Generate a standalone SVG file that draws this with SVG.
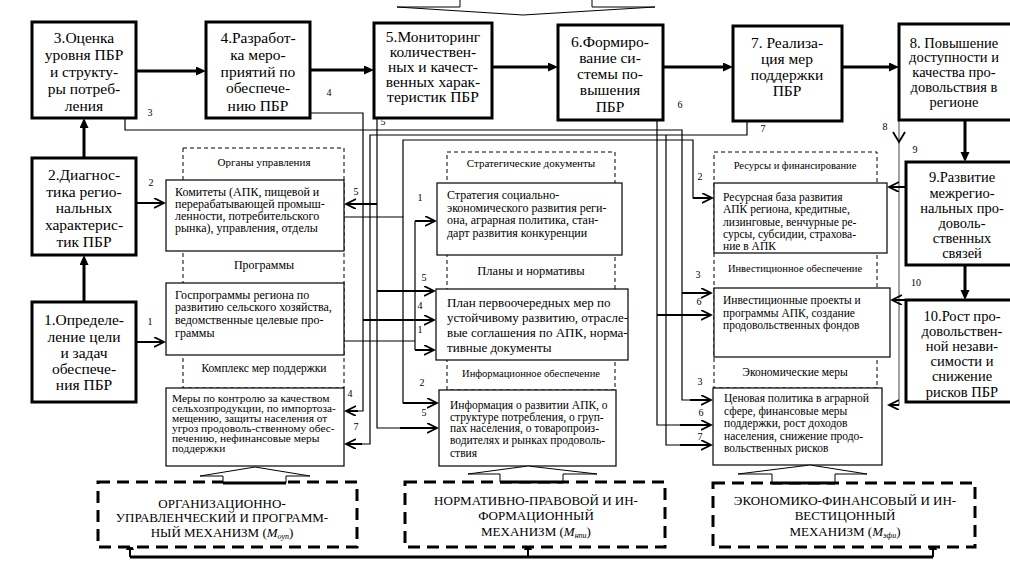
<svg xmlns="http://www.w3.org/2000/svg" width="1010" height="563" viewBox="0 0 1010 563">
<style>
.bx{fill:#fff;stroke:#000;stroke-width:3}
.sb{fill:#fff;stroke:#000;stroke-width:1.2}
.dl{fill:none;stroke:#000;stroke-width:1;stroke-dasharray:4 3}
.mech{fill:#fff;stroke:#000;stroke-width:3;stroke-dasharray:12 7}
text{font-family:"Liberation Serif","Times New Roman",serif;fill:#000}
.tb{font-size:15.5px;text-anchor:middle}
.tb2{font-size:14.5px;text-anchor:middle}
.t12{font-size:12px}
.t115{font-size:11.5px}
.t13{font-size:13px}
.t10{font-size:9.5px}
.lab{font-size:11px;text-anchor:middle}
.mt{font-size:13px;text-anchor:middle}
.num{font-size:10px;text-anchor:middle}
.c path{fill:none;stroke:#000;stroke-width:1.2}
.c path.a{stroke-width:2;marker-end:url(#v)}
.c path.m{stroke-width:3;marker-end:url(#f)}
</style>
<defs>
<marker id="v" markerUnits="userSpaceOnUse" markerWidth="12" markerHeight="12" refX="10" refY="5" orient="auto"><path d="M0,0 L10,5 L0,10" fill="none" stroke="#000" stroke-width="1.8"/></marker>
<marker id="f" markerUnits="userSpaceOnUse" markerWidth="12" markerHeight="10" refX="2" refY="4.5" orient="auto"><path d="M0,0 L10,4.5 L0,9Z" fill="#000"/></marker>
</defs>
<rect width="1010" height="563" fill="#fff"/>

<g id="top-arrow"><path d="M460,0 V7 H397 L523,15 L655,7 H592 V0" fill="#fff" stroke="#000" stroke-width="1"/></g>

<g id="connectors" class="c">
<path class="m" d="M136,71 H198"/>
<path class="m" d="M310,70 H366"/>
<path class="m" d="M492,67 H550"/>
<path class="m" d="M663,67 H725"/>
<path class="m" d="M842,67 H891"/>
<path class="m" d="M84,158 V126"/>
<path class="m" d="M84,302 V263"/>
<path class="m" d="M965,120 V154"/>
<path class="m" d="M965,265 V292"/>
<path d="M125,118 V130 H682 V400 H700"/>
<path class="a" d="M690,400 H711"/>
<path class="a" d="M682,293 H711"/>
<path d="M310,113 H363 V411 H355"/>
<path class="a" d="M358,411 H346"/>
<path class="a" d="M363,320 H434"/>
<path d="M377,118 V428 H420"/>
<path class="a" d="M400,428 H437"/>
<path class="a" d="M377,204 H346"/>
<path class="a" d="M377,291 H434"/>
<path d="M657,120 V425 H690"/>
<path class="a" d="M680,425 H711"/>
<path class="a" d="M657,315 H711"/>
<path d="M747,121 V135 H370 V444 H356"/>
<path class="a" d="M362,444 H346"/>
<path d="M666,135 V445 H690"/>
<path class="a" d="M680,445 H711"/>
<path d="M344,217 H403 V403 H420"/>
<path class="a" d="M403,403 H437"/>
<path d="M403,217 V140 H693 V198 H700"/>
<path class="a" d="M693,198 H712"/>
<path class="a" d="M136,203 H164"/>
<path class="a" d="M136,342 H164"/>
<path d="M344,341 H415"/>
<path d="M415,221 V350"/>
<path class="a" d="M415,221 H435"/>
<path class="a" d="M415,350 H434"/>
<path d="M899,120 V405 H895" style="stroke:#666"/>
<path class="a" d="M899,405 H889"/>
<path d="M893,132 L899,142 L905,132" style="stroke-width:1.8"/>
<path class="a" d="M906,187 H889"/>
<path class="a" d="M906,300 H892"/>
<path d="M130,557 H933" style="stroke-width:3"/>
<path d="M126,550 L130,541 L134,550Z" style="fill:#000;stroke:none"/>
<path d="M524,550 L528,541 L532,550Z" style="fill:#000;stroke:none"/>
<path d="M929,550 L933,541 L937,550Z" style="fill:#000;stroke:none"/>
<path d="M130,557 V550 M528,557 V550 M933,557 V550" style="stroke-width:2"/>
</g>

<g id="labels-num">
<text class="num" x="150" y="116">3</text>
<text class="num" x="329" y="96">4</text>
<text class="num" x="383" y="125">5</text>
<text class="num" x="680" y="108">6</text>
<text class="num" x="763" y="132">7</text>
<text class="num" x="885" y="130">8</text>
<text class="num" x="915" y="153">9</text>
<text class="num" x="916" y="286">10</text>
<text class="num" x="151" y="186">2</text>
<text class="num" x="150" y="325">1</text>
<text class="num" x="356" y="195">5</text>
<text class="num" x="420" y="201">1</text>
<text class="num" x="424" y="281">5</text>
<text class="num" x="420" y="309">4</text>
<text class="num" x="420" y="333">1</text>
<text class="num" x="422" y="386">2</text>
<text class="num" x="424" y="416">5</text>
<text class="num" x="350" y="397">4</text>
<text class="num" x="356" y="430">7</text>
<text class="num" x="700" y="180">2</text>
<text class="num" x="698" y="278">3</text>
<text class="num" x="699" y="305">6</text>
<text class="num" x="700" y="385">3</text>
<text class="num" x="701" y="416">6</text>
<text class="num" x="700" y="440">7</text>
</g>

<g id="n3"><rect class="bx" x="32" y="22" width="104" height="96"/>
<text class="tb"><tspan x="84" y="43">3.Оценка</tspan><tspan x="84" y="60">уровня ПБР</tspan><tspan x="84" y="77">и структу-</tspan><tspan x="84" y="94">ры потреб-</tspan><tspan x="84" y="111">ления</tspan></text></g>
<g id="n4"><rect class="bx" x="206" y="22" width="104" height="96"/>
<text class="tb"><tspan x="258" y="43">4.Разработ-</tspan><tspan x="258" y="60">ка меро-</tspan><tspan x="258" y="77">приятий по</tspan><tspan x="258" y="93">обеспече-</tspan><tspan x="258" y="111">нию ПБР</tspan></text></g>
<g id="n5"><rect class="bx" x="374" y="23" width="118" height="95"/>
<text class="tb"><tspan x="433" y="42">5.Мониторинг</tspan><tspan x="433" y="57">количествен-</tspan><tspan x="433" y="72">ных и качест-</tspan><tspan x="433" y="87">венных харак-</tspan><tspan x="433" y="102">теристик ПБР</tspan></text></g>
<g id="n6"><rect class="bx" x="558" y="25" width="105" height="95"/>
<text class="tb"><tspan x="610" y="47">6.Формиро-</tspan><tspan x="610" y="63">вание си-</tspan><tspan x="610" y="79">стемы по-</tspan><tspan x="610" y="95">вышения</tspan><tspan x="610" y="112">ПБР</tspan></text></g>
<g id="n7"><rect class="bx" x="733" y="26" width="109" height="95"/>
<text class="tb"><tspan x="787" y="48">7. Реализа-</tspan><tspan x="787" y="64">ция мер</tspan><tspan x="787" y="80">поддержки</tspan><tspan x="787" y="96">ПБР</tspan></text></g>
<g id="n8"><rect class="bx" x="899" y="24" width="130" height="96"/>
<text class="tb2"><tspan x="954" y="48">8. Повышение</tspan><tspan x="954" y="62">доступности и</tspan><tspan x="954" y="77">качества про-</tspan><tspan x="954" y="92">довольствия в</tspan><tspan x="954" y="107">регионе</tspan></text></g>
<g id="n2"><rect class="bx" x="32" y="158" width="104" height="97"/>
<text class="tb"><tspan x="84" y="180">2.Диагнос-</tspan><tspan x="84" y="197">тика регио-</tspan><tspan x="84" y="213">нальных</tspan><tspan x="84" y="230">характерис-</tspan><tspan x="84" y="247">тик ПБР</tspan></text></g>
<g id="n1"><rect class="bx" x="32" y="302" width="104" height="100"/>
<text class="tb"><tspan x="84" y="325">1.Определе-</tspan><tspan x="84" y="342">ление цели</tspan><tspan x="84" y="358">и задач</tspan><tspan x="84" y="374">обеспече-</tspan><tspan x="84" y="390">ния ПБР</tspan></text></g>
<g id="n9"><rect class="bx" x="906" y="162" width="120" height="103"/>
<text class="tb2"><tspan x="962" y="182">9.Развитие</tspan><tspan x="962" y="198">межрегио-</tspan><tspan x="962" y="213">нальных про-</tspan><tspan x="962" y="228">доволь-</tspan><tspan x="962" y="243">ственных</tspan><tspan x="962" y="258">связей</tspan></text></g>
<g id="n10"><rect class="bx" x="906" y="300" width="120" height="102"/>
<text class="tb2"><tspan x="962" y="321">10.Рост про-</tspan><tspan x="962" y="336">довольствен-</tspan><tspan x="962" y="351">ной незави-</tspan><tspan x="962" y="366">симости и</tspan><tspan x="962" y="381">снижение</tspan><tspan x="962" y="397">рисков ПБР</tspan></text></g>

<g id="col-left">
<rect class="dl" x="183" y="148" width="161" height="240"/>
<text class="lab" x="264" y="166">Органы управления</text>
<rect class="sb" x="166" y="180" width="178" height="71"/>
<text class="t12"><tspan x="175" y="196">Комитеты (АПК, пищевой и</tspan><tspan x="175" y="208">перерабатывающей промыш-</tspan><tspan x="175" y="220">ленности, потребительского</tspan><tspan x="175" y="232">рынка), управления, отделы</tspan></text>
<text class="lab" x="264" y="269" style="font-size:12px">Программы</text>
<rect class="sb" x="166" y="283" width="178" height="72"/>
<text class="t12"><tspan x="175" y="299">Госпрограммы региона по</tspan><tspan x="175" y="311">развитию сельского хозяйства,</tspan><tspan x="175" y="324">ведомственные целевые про-</tspan><tspan x="175" y="337">граммы</tspan></text>
<text class="lab" x="264" y="372" style="font-size:11.5px">Комплекс мер поддержки</text>
<rect class="sb" x="166" y="388" width="178" height="78"/>
<text class="t10" transform="translate(172,0) scale(1.2,1) translate(-172,0)"><tspan x="172" y="402">Меры по контролю за качеством</tspan><tspan x="172" y="412">сельхозпродукции, по импортоза-</tspan><tspan x="172" y="422">мещению,  защиты населения от</tspan><tspan x="172" y="432">угроз продоволь-ственному обес-</tspan><tspan x="172" y="442">печению, нефинансовые меры</tspan><tspan x="172" y="452">поддержки</tspan></text>
</g>

<g id="col-mid">
<rect class="dl" x="447" y="152" width="168" height="238"/>
<text class="lab" x="531" y="167">Стратегические документы</text>
<rect class="sb" x="437" y="183" width="185" height="72"/>
<text class="t12"><tspan x="447" y="199">Стратегия социально-</tspan><tspan x="447" y="212">экономического развития реги-</tspan><tspan x="447" y="224">она, аграрная политика, стан-</tspan><tspan x="447" y="237">дарт развития конкуренции</tspan></text>
<text class="lab" x="531" y="275" style="font-size:12.5px">Планы и нормативы</text>
<rect class="sb" x="436" y="289" width="192" height="71"/>
<text class="t13"><tspan x="447" y="307">План первоочередных мер по</tspan><tspan x="447" y="322">устойчивому развитию, отрасле-</tspan><tspan x="447" y="337">вые соглашения по АПК, норма-</tspan><tspan x="447" y="352">тивные документы</tspan></text>
<text class="lab" x="531" y="377" style="font-size:10.5px">Информационное обеспечение</text>
<rect class="sb" x="439" y="390" width="177" height="76"/>
<text class="t115"><tspan x="450" y="409">Информация о развитии АПК, о</tspan><tspan x="450" y="421">структуре потребления, о груп-</tspan><tspan x="450" y="432">пах населения, о товаропроиз-</tspan><tspan x="450" y="444">водителях и рынках продоволь-</tspan><tspan x="450" y="457">ствия</tspan></text>
</g>

<g id="col-right">
<rect class="dl" x="714" y="152" width="163" height="236"/>
<text class="lab" x="795" y="169" style="font-size:10.5px">Ресурсы и финансирование</text>
<rect class="sb" x="714" y="183" width="173" height="70"/>
<text class="t115"><tspan x="723" y="201">Ресурсная база развития</tspan><tspan x="723" y="213">АПК региона, кредитные,</tspan><tspan x="723" y="226">лизинговые, венчурные ре-</tspan><tspan x="723" y="238">сурсы, субсидии, страхова-</tspan><tspan x="723" y="250">ние в АПК</tspan></text>
<text class="lab" x="795" y="272" style="font-size:10.5px">Инвестиционное обеспечение</text>
<rect class="sb" x="714" y="288" width="176" height="69"/>
<text class="t115"><tspan x="723" y="304">Инвестиционные проекты и</tspan><tspan x="723" y="317">программы АПК, создание</tspan><tspan x="723" y="329">продовольственных фондов</tspan></text>
<text class="lab" x="795" y="376" style="font-size:11.5px">Экономические меры</text>
<rect class="sb" x="713" y="388" width="169" height="77"/>
<text class="t115"><tspan x="724" y="402">Ценовая политика в аграрной</tspan><tspan x="724" y="415">сфере, финансовые меры</tspan><tspan x="724" y="427">поддержки, рост доходов</tspan><tspan x="724" y="440">населения, снижение продо-</tspan><tspan x="724" y="452">вольственных рисков</tspan></text>
</g>

<g id="mech1">
<rect class="mech" x="98" y="482" width="259" height="65"/>
<path d="M223,483 V476 H200 L255,467 L310,476 H286 V483" fill="#fff" stroke="#000" stroke-width="1"/>
<path d="M223,483 H286" stroke="#000" stroke-width="3"/>
<text class="mt"><tspan x="222" y="508">ОРГАНИЗАЦИОННО-</tspan><tspan x="222" y="522">УПРАВЛЕНЧЕСКИЙ И ПРОГРАММ-</tspan><tspan x="222" y="537">НЫЙ МЕХАНИЗМ (<tspan font-style="italic">M</tspan><tspan font-style="italic" font-size="8" dy="2">оуп</tspan><tspan dy="-2">)</tspan></tspan></text>
</g>
<g id="mech2">
<rect class="mech" x="405" y="482" width="260" height="65"/>
<path d="M500,482 V474 H468 L528,466 L597,474 H563 V482" fill="#fff" stroke="#000" stroke-width="1"/>
<path d="M500,482 H563" stroke="#000" stroke-width="3"/>
<text class="mt"><tspan x="536" y="505">НОРМАТИВНО-ПРАВОВОЙ И ИН-</tspan><tspan x="536" y="520">ФОРМАЦИОННЫЙ</tspan><tspan x="536" y="536">МЕХАНИЗМ (<tspan font-style="italic">M</tspan><tspan font-style="italic" font-size="8" dy="2">нпи</tspan><tspan dy="-2">)</tspan></tspan></text>
</g>
<g id="mech3">
<rect class="mech" x="713" y="483" width="262" height="64"/>
<path d="M772,483 V474 H738 L810,465 L867,474 H835 V483" fill="#fff" stroke="#000" stroke-width="1"/>
<path d="M772,483 H835" stroke="#000" stroke-width="3"/>
<text class="mt"><tspan x="845" y="505">ЭКОНОМИКО-ФИНАНСОВЫЙ И ИН-</tspan><tspan x="845" y="520">ВЕСТИЦОННЫЙ</tspan><tspan x="845" y="536">МЕХАНИЗМ (<tspan font-style="italic">M</tspan><tspan font-style="italic" font-size="8" dy="2">эфи</tspan><tspan dy="-2">)</tspan></tspan></text>
</g>
</svg>
